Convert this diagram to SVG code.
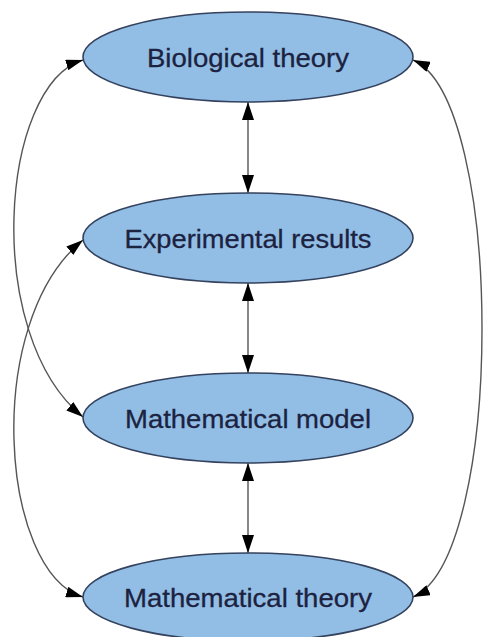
<svg xmlns="http://www.w3.org/2000/svg" width="487" height="637" viewBox="0 0 487 637">
<style>
.node ellipse{fill:#92bee6;stroke:#34425e;stroke-width:1.6}
.node text{font-family:"Liberation Sans",Arial,sans-serif;font-size:26px;fill:#1c2240;stroke:#1c2240;stroke-width:0.3;text-anchor:middle}
.edge{fill:none;stroke:#555;stroke-width:1.4}
</style>
<defs>
<marker id="ah" viewBox="0 0 18 12" refX="18" refY="6" markerWidth="18" markerHeight="12" markerUnits="userSpaceOnUse" orient="auto-start-reverse">
<path d="M0,0 L18,6 L0,12 z" fill="#000"/>
</marker>
<marker id="ahs" viewBox="0 0 17 11" refX="17" refY="5.5" markerWidth="17" markerHeight="11" markerUnits="userSpaceOnUse" orient="auto-start-reverse">
<path d="M0,0 L17,5.5 L0,11 z" fill="#000"/>
</marker>
</defs>
<rect width="487" height="637" fill="#fff"/>
<g id="connectors">
<line class="edge" x1="248" y1="102" x2="248" y2="193" marker-start="url(#ah)" marker-end="url(#ah)"/>
<line class="edge" x1="248" y1="283" x2="248" y2="373" marker-start="url(#ah)" marker-end="url(#ah)"/>
<line class="edge" x1="248" y1="463" x2="248" y2="553" marker-start="url(#ah)" marker-end="url(#ah)"/>
<path class="edge" d="M83,60 C0,85 -18,335 83,417" marker-start="url(#ahs)" marker-end="url(#ahs)"/>
<path class="edge" d="M83,240 C-18,322 0,572 83,597" marker-start="url(#ahs)" marker-end="url(#ahs)"/>
<path class="edge" d="M413,60 C505,100 505,557 413,597" marker-start="url(#ahs)" marker-end="url(#ahs)"/>
</g>
<g id="bio" class="node"><ellipse cx="248" cy="57" rx="165" ry="45"/><text x="248" y="67" textLength="202" lengthAdjust="spacingAndGlyphs">Biological theory</text></g>
<g id="exp" class="node"><ellipse cx="248" cy="238" rx="165" ry="45"/><text x="248" y="248" textLength="247" lengthAdjust="spacingAndGlyphs">Experimental results</text></g>
<g id="model" class="node"><ellipse cx="248" cy="418" rx="165" ry="45"/><text x="248" y="428" textLength="246" lengthAdjust="spacingAndGlyphs">Mathematical model</text></g>
<g id="theory" class="node"><ellipse cx="248" cy="597" rx="165" ry="44"/><text x="248" y="607" textLength="248" lengthAdjust="spacingAndGlyphs">Mathematical theory</text></g>
</svg>
